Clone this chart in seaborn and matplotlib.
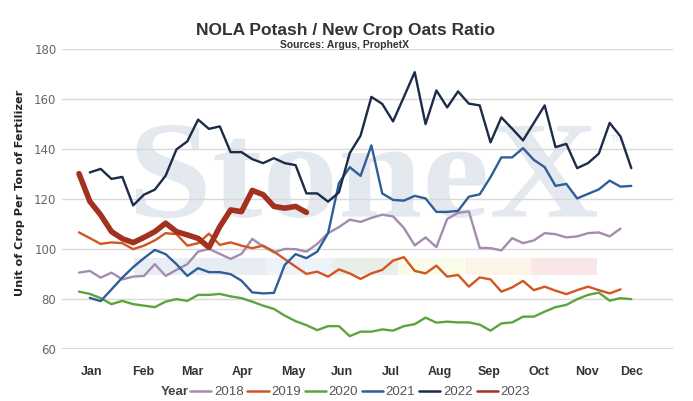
import matplotlib
matplotlib.use("Agg")
import matplotlib.pyplot as plt
import matplotlib.transforms as mtransforms
from matplotlib.font_manager import FontProperties
from matplotlib.lines import Line2D
from matplotlib.patches import PathPatch, Rectangle
from matplotlib.textpath import TextPath
import pandas as pd
import seaborn as sns

# Datos semanales (semana 1..52)
v2018 = [90.7, 91.4, 88.7, 90.7, 88.0, 89.1, 89.4, 94.1, 89.4, 91.8,
         94.1, 99.1, 100.2, 98.2, 96.2, 98.2, 104.2, 101.2, 98.8, 100.2,
         100.1, 99.1, 102.2, 106.5, 108.9, 111.9, 111.0, 112.6, 113.9, 113.2,
         108.6, 101.6, 104.8, 100.9, 112.2, 114.6, 115.2, 100.6, 100.5, 99.6,
         104.5, 102.5, 103.6, 106.5, 106.1, 104.8, 105.2, 106.5, 106.8, 105.2,
         108.3]
v2019 = [106.8, 104.5, 102.2, 102.8, 102.5, 100.1, 101.5, 103.6, 106.5, 106.1,
         101.5, 102.5, 106.3, 101.8, 102.8, 101.5, 100.5, 101.5, 99.1, 96.1,
         93.1, 90.2, 91.1, 89.1, 92.0, 90.4, 88.2, 90.4, 91.8, 95.5,
         96.9, 91.4, 90.4, 93.5, 89.1, 89.8, 85.1, 88.8, 88.0, 83.1,
         84.8, 87.4, 83.7, 85.1, 83.5, 82.1, 83.7, 85.1, 83.7, 82.4,
         84.0]
v2020 = [83.1, 82.2, 80.5, 78.1, 79.4, 78.1, 77.5, 76.9, 79.1, 80.1,
         79.4, 81.8, 81.8, 82.2, 81.2, 80.5, 79.1, 77.5, 76.2, 73.5,
         71.3, 69.7, 67.7, 69.3, 69.3, 65.3, 67.1, 67.1, 68.0, 67.5,
         69.3, 70.1, 72.7, 70.7, 71.1, 70.8, 70.8, 69.9, 67.5, 70.4,
         70.8, 73.1, 73.1, 75.1, 76.9, 77.8, 80.1, 81.8, 82.7, 79.5,
         80.5, 80.1]
# 2021 y 2022 empiezan en la semana 2
v2021 = [80.6, 79.3, 84.0, 88.7, 92.9, 96.5, 99.8, 98.1, 94.1, 89.4,
         92.5, 90.9, 90.9, 90.1, 87.5, 82.8, 82.4, 82.6, 93.8, 98.1,
         96.5, 99.1, 106.5, 126.5, 132.9, 129.4, 141.6, 122.4, 119.8, 119.5,
         121.4, 120.4, 115.0, 115.0, 115.4, 121.1, 122.0, 128.9, 136.8, 136.8,
         140.5, 135.8, 132.9, 125.4, 126.2, 120.4, 122.2, 124.0, 127.5, 125.1,
         125.4]
v2022 = [130.8, 132.2, 128.2, 129.0, 117.6, 121.9, 123.9, 129.5, 140.0, 143.2,
         151.9, 148.2, 149.2, 138.9, 138.9, 136.1, 134.5, 136.5, 134.5, 133.7,
         122.4, 122.4, 119.1, 122.8, 138.5, 145.5, 161.0, 158.2, 151.2, 161.0,
         170.9, 150.1, 163.6, 156.8, 163.2, 158.3, 157.6, 142.8, 152.8, 148.3,
         143.6, 150.6, 157.6, 140.9, 142.2, 132.5, 134.5, 138.3, 150.6, 145.2,
         132.5]
v2023 = [130.3, 119.2, 113.8, 107.1, 104.3, 102.7, 104.8, 107.1, 110.5, 107.1,
         105.8, 104.4, 100.8, 109.1, 115.8, 115.1, 123.6, 121.9, 117.2, 116.5,
         117.2, 114.8]

years = ["2018", "2019", "2020", "2021", "2022", "2023"]
first_week = [1, 1, 1, 2, 2, 1]
values = [v2018, v2019, v2020, v2021, v2022, v2023]
colors = ["#a58bb0", "#d2561f", "#5ba53c", "#2f5f98", "#1b2b48", "#a3311f"]

months = ["Jan", "Feb", "Mar", "Apr", "May", "Jun",
          "Jul", "Aug", "Sep", "Oct", "Nov", "Dec"]
month_weeks = [2.2, 6.9, 11.5, 16.1, 20.8, 25.3, 29.8, 34.3, 38.9, 43.5, 47.9, 52.0]
y_ticks = [60, 80, 100, 120, 140, 160, 180]

# Tabla larga para seaborn
rows = []
for yr, w0, vals in zip(years, first_week, values):
    for k, v in enumerate(vals):
        rows.append({"week": w0 + k, "ratio": v, "year": yr})
df = pd.DataFrame(rows)

sns.set_theme(style="white")
plt.rcParams["font.family"] = ["DejaVu Sans"]
narrow = ["Liberation Sans", "DejaVu Sans"]

fig = plt.figure(figsize=(6.93, 4.01), dpi=100)
ax = fig.add_axes([62 / 693, (401 - 349.4) / 401, 611 / 693, 300 / 401])


def px_ax(px, py):
    return (px - 62) / 611, (349.4 - py) / 300


# Marca de agua
tp = TextPath((0, 0), "StoneX", size=1,
              prop=FontProperties(family="Liberation Serif", weight="bold"))
bb = tp.get_extents()
x0, y0 = px_ax(136, 218)
x1, y1 = px_ax(597, 125)
tr = (mtransforms.Affine2D().translate(-bb.x0, -bb.y0)
      .scale((x1 - x0) / bb.width, (y1 - y0) / bb.height)
      .translate(x0, y0) + ax.transAxes)
ax.add_patch(PathPatch(tp, transform=tr, facecolor="#e4e8ef",
                       edgecolor="none", zorder=0.2, clip_on=False))
tx, ty = px_ax(616, 139)
ax.text(tx, ty, "TM", transform=ax.transAxes, fontsize=6, color="#dde2ea",
        ha="center", va="center", zorder=0.2)
strip = ["#e9edf4", "#e8ecf3", "#eef3f9", "#e7efe8", "#fbfbea", "#fdf3e6", "#f9e6e6"]
for k, c in enumerate(strip):
    sx, sy = px_ax(134 + k * 66.1, 275)
    ax.add_patch(Rectangle((sx, sy), 66.1 / 611, 17 / 300, transform=ax.transAxes,
                           facecolor=c, edgecolor="none", zorder=0.2))

sns.lineplot(data=df, x="week", y="ratio", hue="year", size="year",
             palette=dict(zip(years, colors)),
             sizes={"2018": 1.7, "2019": 1.7, "2020": 1.7, "2021": 1.7,
                    "2022": 1.7, "2023": 4.0},
             hue_order=years, size_order=years,
             errorbar=None, legend=False, ax=ax)
for ln in ax.lines:
    ln.set_solid_joinstyle("round")
    ln.set_solid_capstyle("round")

ax.set_xlim(-0.57, 55.85)
ax.set_ylim(60, 180)
ax.set_yticks(y_ticks)
ax.set_xticks(month_weeks, months)
ax.set_xlabel("")
ax.set_ylabel("")
ax.grid(axis="y", color="#d9d9d9", linewidth=1)
ax.grid(axis="x", visible=False)
ax.set_axisbelow(True)
for s in ax.spines.values():
    s.set_visible(False)
ax.axhline(60, color="#cfcfcf", linewidth=2, zorder=0.5)
ax.tick_params(axis="y", length=0, pad=4, labelsize=8.5, labelcolor="#666666")
ax.tick_params(axis="x", length=0, pad=12, labelsize=9, labelcolor="#333333")
for lab in ax.get_xticklabels():
    lab.set_fontweight("bold")
    lab.set_fontfamily(narrow)

fig.text(346 / 693, 1 - 30 / 401, "NOLA Potash / New Crop Oats Ratio",
         ha="center", va="center", fontsize=12.5, fontweight="bold",
         color="#333333", family=narrow)
fig.text(345 / 693, 1 - 45 / 401, "Sources: Argus, ProphetX",
         ha="center", va="center", fontsize=7.5, fontweight="bold",
         color="#333333", family=narrow)
fig.text(20 / 693, 1 - 193 / 401, "Unit of Crop Per Ton of Fertilizer",
         ha="center", va="center", rotation=90, fontsize=8.1,
         fontweight="bold", color="#222222")

handles = [Line2D([], [], color=c, linewidth=1.8) for c in colors]
fig.text(175 / 693, 1 - 392 / 401, "Year", ha="center", va="center",
         fontsize=9.5, fontweight="bold", color="#444444", family=narrow)
fig.legend(handles, years, loc="center", bbox_to_anchor=(360 / 693, 1 - 392 / 401),
           ncol=6, frameon=False, handlelength=1.6, handletextpad=0.2,
           columnspacing=0.3, borderaxespad=0, borderpad=0,
           prop={"family": narrow, "size": 9.5}, labelcolor="#555555")

fig.savefig("out.png", dpi=100)
